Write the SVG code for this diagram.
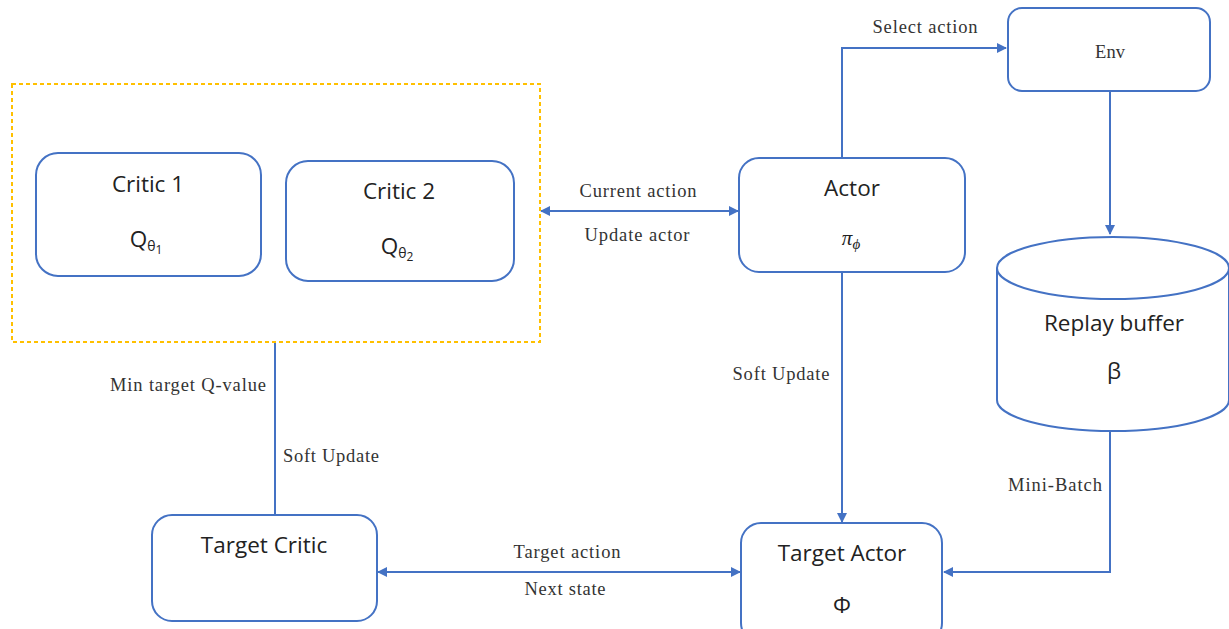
<svg xmlns="http://www.w3.org/2000/svg" width="1229" height="629" viewBox="0 0 1229 629">
  <defs>
    <marker id="arr" viewBox="0 0 10 10" refX="9" refY="5" markerWidth="5" markerHeight="5" orient="auto-start-reverse">
      <path d="M0,0 L10,5 L0,10 z" fill="#4472C4"/>
    </marker>
    <style>
      .box { fill: #fff; stroke: #4472C4; stroke-width: 2; }
      .line { fill: none; stroke: #4472C4; stroke-width: 2; }
      .lbl { font-family: "Open Sans", "Liberation Sans", sans-serif; font-size: 22.5px; fill: #222; text-anchor: middle; }
      .sym { font-family: "Liberation Serif", serif; font-size: 21px; fill: #222; text-anchor: middle; }
      .edge { font-family: "Liberation Serif", serif; font-size: 18.5px; fill: #333; text-anchor: middle; }
    </style>
  </defs>
  <rect width="1229" height="629" fill="#fff"/>

  <!-- connectors -->
  <g id="connectors">
    <polyline class="line" points="842,158 842,48 1006,48" marker-end="url(#arr)"/>
    <line class="line" x1="1110" y1="91" x2="1110" y2="234" marker-end="url(#arr)"/>
    <polyline class="line" points="1110,431 1110,572 944,572" marker-end="url(#arr)"/>
    <line class="line" x1="842" y1="272" x2="842" y2="522" marker-end="url(#arr)"/>
    <line class="line" x1="541" y1="211" x2="738" y2="211" marker-start="url(#arr)" marker-end="url(#arr)"/>
    <line class="line" x1="275" y1="342" x2="275" y2="515"/>
    <line class="line" x1="378" y1="572" x2="740" y2="572" marker-start="url(#arr)" marker-end="url(#arr)"/>
    <text class="edge" x="925" y="33" textLength="105" lengthAdjust="spacing">Select action</text>
    <text class="edge" x="1055" y="491" textLength="94" lengthAdjust="spacing">Mini-Batch</text>
    <text class="edge" x="781" y="380" textLength="97" lengthAdjust="spacing">Soft Update</text>
    <text class="edge" x="638" y="197" textLength="117" lengthAdjust="spacing">Current action</text>
    <text class="edge" x="637" y="241" textLength="105" lengthAdjust="spacing">Update actor</text>
    <text class="edge" x="188" y="391" textLength="156" lengthAdjust="spacing">Min target Q-value</text>
    <text class="edge" x="331" y="462" textLength="96" lengthAdjust="spacing">Soft Update</text>
    <text class="edge" x="567" y="558" textLength="107" lengthAdjust="spacing">Target action</text>
    <text class="edge" x="565" y="595" textLength="81" lengthAdjust="spacing">Next state</text>
  </g>

  <!-- critic ensemble -->
  <g id="critics">
    <rect x="12" y="84" width="528" height="258" fill="none" stroke="#FFC000" stroke-width="2" stroke-dasharray="4,3"/>
  </g>
  <g id="critic1">
    <rect class="box" x="36" y="153" width="225" height="123" rx="22"/>
    <text class="lbl" x="148" y="192">Critic 1</text>
    <text class="lbl" x="146" y="247">Q<tspan font-size="14" dy="4">θ</tspan><tspan font-size="12" dy="3">1</tspan></text>
  </g>
  <g id="critic2">
    <rect class="box" x="286" y="161" width="228" height="120" rx="22"/>
    <text class="lbl" x="399" y="199">Critic 2</text>
    <text class="lbl" x="397" y="254">Q<tspan font-size="14" dy="4">θ</tspan><tspan font-size="12" dy="3">2</tspan></text>
  </g>
  <g id="actor">
    <rect class="box" x="739" y="158" width="226" height="114" rx="20"/>
    <text class="lbl" x="852" y="196">Actor</text>
    <text class="sym" x="851" y="245" font-style="italic">π<tspan font-size="15" dy="4">ϕ</tspan></text>
  </g>
  <g id="env">
    <rect class="box" x="1008" y="8" width="202" height="83" rx="14"/>
    <text class="edge" x="1110" y="58" font-size="20">Env</text>
  </g>
  <g id="replay-buffer">
    <path class="box" d="M997,268 L997,400 A116,31 0 0 0 1229,400 L1229,268"/>
    <ellipse class="box" cx="1113" cy="268" rx="116" ry="31"/>
    <text class="lbl" x="1114" y="331">Replay buffer</text>
    <text class="lbl" x="1114" y="379">β</text>
  </g>
  <g id="target-critic">
    <rect class="box" x="152" y="515" width="225" height="106" rx="20"/>
    <text class="lbl" x="264" y="553">Target Critic</text>
  </g>
  <g id="target-actor">
    <rect class="box" x="741" y="523" width="201" height="120" rx="20"/>
    <text class="lbl" x="842" y="561">Target Actor</text>
    <text class="lbl" x="842" y="613">Φ</text>
  </g>
</svg>
